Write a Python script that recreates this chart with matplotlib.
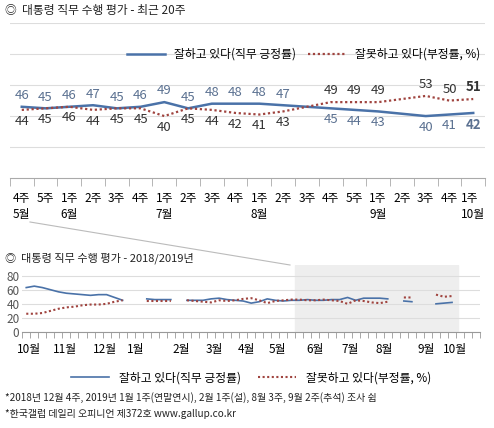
import numpy as np
import matplotlib.pyplot as plt
from matplotlib.lines import Line2D

plt.rcParams['font.family'] = ['Noto Sans CJK KR', 'DejaVu Sans']

# recent 20 weeks
week_labels = ["4주\n5월", "5주", "1주\n6월", "2주", "3주", "4주", "1주\n7월", "2주", "3주", "4주",
               "1주\n8월", "2주", "3주", "4주", "5주", "1주\n9월", "2주", "3주", "4주", "1주\n10월"]
approve = [46, 45, 46, 47, 45, 46, 49, 45, 48, 48, 48, 47, np.nan, 45, 44, 43, np.nan, 40, 41, 42]
disapprove = [44, 45, 46, 44, 45, 45, 40, 45, 44, 42, 41, 43, np.nan, 49, 49, 49, np.nan, 53, 50, 51]

# 2018/2019 weekly
approve_long = [63, 65, 63, 60, 57, 55, 54, 53, 52, 53, 53, 49, 45, np.nan, np.nan,
                47, 46, 46, 46, np.nan,
                45, 45, 45, 47, 48, 46, 45, 44, 41, 43, 47, 45, 44, 45, 45, 46, 45, 45, 46, 46,
                49, 45, 48, 48, 48, 47, np.nan, 44, 43, np.nan, np.nan, 40, 41, 42,
                np.nan, np.nan, np.nan]
disapprove_long = [26, 26, 27, 30, 33, 35, 36, 38, 39, 39, 40, 43, 45, np.nan, np.nan,
                   44, 44, 44, 44, np.nan,
                   45, 44, 43, 42, 45, 44, 45, 47, 48, 45, 41, 44, 45, 46, 46, 45, 45, 46, 45, 44,
                   40, 45, 44, 42, 41, 43, np.nan, 49, 49, np.nan, np.nan, 53, 50, 51,
                   np.nan, np.nan, np.nan]
month_labels = ["10월", "11월", "12월", "1월", "2월", "3월", "4월", "5월", "6월", "7월", "8월", "9월", "10월"]
month_pos = [0.3, 4.8, 9.8, 13.6, 19.3, 23.4, 27.4, 31.2, 36, 40.3, 44.6, 49.8, 53.4]

blue = "#4a72a8"
red = "#a0443f"
blue_txt = "#5b7191"
red_txt = "#333333"

fig = plt.figure(figsize=(4.94, 4.28), dpi=100)

fig.text(0.01, 0.975, "◎  대통령 직무 수행 평가 - 최근 20주", fontsize=8.5, va="center", color="#222")

ax = fig.add_axes([0.02, 0.584, 0.962, 0.362])
x = np.arange(20)
a = np.array(approve, dtype=float)
d = np.array(disapprove, dtype=float)
m = ~np.isnan(a)
ax.plot(x[m], a[m], color=blue, lw=1.8, label="잘하고 있다(직무 긍정률)")
ax.plot(x[m], d[m], color=red, lw=1.6, ls=(0, (1, 1.2)), label="잘못하고 있다(부정률, %)")
for i in x[m]:
    up_a = a[i] > d[i] or i < 12
    last = i == 19
    ax.text(i, a[i] + (3 if up_a else -3), "%d" % a[i], ha="center",
            va="bottom" if up_a else "top", fontsize=9.5, color=blue_txt,
            fontweight="bold" if last else "normal")
    ax.text(i, d[i] + (-3 if up_a else 3), "%d" % d[i], ha="center",
            va="top" if up_a else "bottom", fontsize=9.5, color=red_txt,
            fontweight="bold" if last else "normal")
ax.set_xlim(-0.5, 19.5)
ax.set_ylim(0, 100)
ax.set_yticks([20, 40, 60, 80, 100])
ax.yaxis.grid(True, color="#dddddd", lw=0.8)
ax.set_axisbelow(True)
ax.tick_params(axis="y", left=False, labelleft=False)
ax.set_xticks(x)
ax.set_xticklabels(week_labels, fontsize=8.5, va="top", ma="left", linespacing=1.3)
ax.tick_params(axis="x", length=0, pad=10)
ax.set_xticks(np.arange(-0.5, 20, 1), minor=True)
ax.tick_params(axis="x", which="minor", length=6, color="#aaaaaa")
for s in ["top", "right", "left"]:
    ax.spines[s].set_visible(False)
ax.spines["bottom"].set_color("#aaaaaa")
ax.legend(loc="upper right", bbox_to_anchor=(1.0, 0.87), ncol=2, frameon=False, fontsize=8.5,
          handlelength=3.2, columnspacing=1.0, borderaxespad=0)

# bottom panel
fig.text(0.01, 0.397, "◎  대통령 직무 수행 평가 - 2018/2019년", fontsize=8, va="center", color="#222")
bx = fig.add_axes([0.045, 0.224, 0.927, 0.157])
xl = np.arange(len(approve_long))
bx.axvspan(33.5, 53.8, color="#eeeeee", zorder=0)
bx.plot(xl, approve_long, color=blue, lw=1.2, label="잘하고 있다(직무 긍정률)")
bx.plot(xl, disapprove_long, color=red, lw=1.5, ls=(0, (1, 1.2)), label="잘못하고 있다(부정률, %)")
bx.set_xlim(-0.5, 56.5)
bx.set_ylim(0, 95)
bx.set_yticks([0, 20, 40, 60, 80])
bx.tick_params(axis="y", length=0, labelsize=8.5, labelcolor="#555", pad=2)
bx.yaxis.grid(True, color="#dddddd", lw=0.8)
bx.set_axisbelow(True)
bx.set_xticks(month_pos)
bx.set_xticklabels(month_labels, fontsize=8.5)
bx.tick_params(axis="x", length=0, pad=8)
bx.set_xticks(np.arange(-0.5, 57, 1), minor=True)
bx.tick_params(axis="x", which="minor", length=4, color="#999999")
for s in ["top", "right", "left"]:
    bx.spines[s].set_visible(False)
bx.spines["bottom"].set_color("#999999")
bx.legend(loc="center", bbox_to_anchor=(0.5, -0.68), ncol=2, frameon=False, fontsize=8.5,
          handlelength=3.2, columnspacing=1.5)

fig.add_artist(Line2D([30 / 494, 290 / 494], [1 - 222 / 428, 1 - 265 / 428], color="#bbbbbb", lw=0.8))

fig.text(0.01, 0.072, "*2018년 12월 4주, 2019년 1월 1주(연말연시), 2월 1주(설), 8월 3주, 9월 2주(추석) 조사 쉼",
         fontsize=7.2, va="center", color="#222")
fig.text(0.01, 0.033, "*한국갤럽 데일리 오피니언 제372호 www.gallup.co.kr", fontsize=7.2, va="center", color="#222")

fig.savefig("out.png", dpi=100)
